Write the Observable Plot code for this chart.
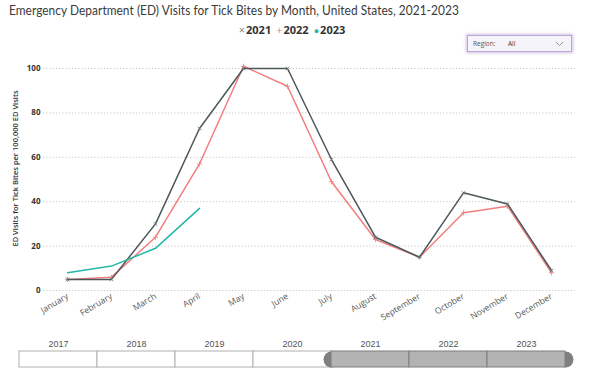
<!DOCTYPE html>
<html>
<head>
<meta charset="utf-8">
<script src="https://cdn.jsdelivr.net/npm/d3@7"></script>
<script src="https://cdn.jsdelivr.net/npm/@observablehq/plot@0.6"></script>
<style>
  body { margin:0; width:598px; height:378px; position:relative; background:#fff; overflow:hidden; font-family:"Open Sans", sans-serif; }
  #title { position:absolute; left:9px; top:2px; font-family:Lato, sans-serif; font-size:11.9px; letter-spacing:0.05px; color:#3a3a3a; white-space:nowrap; transform:scaleY(1.12); transform-origin:left top; }
  #legend { position:absolute; left:0; width:584px; top:22px; text-align:center; font-size:11px; font-weight:bold; color:#333; white-space:nowrap; }
  #legend span.sym { font-weight:normal; margin-right:1px; }
  #legend span.item { margin:0 2.5px; }
  #dropdown { position:absolute; left:467px; top:35px; width:105px; height:17px; box-sizing:border-box; border:1px solid #b9a7d6; background:#f6f4fb; box-shadow:0 0 3px 1px rgba(150,110,190,0.45); font-size:6.5px; color:#555; }
  #dropdown .lab { position:absolute; left:5px; top:3px; }
  #dropdown .val { position:absolute; left:40px; top:3px; color:#333; }
  #dropdown svg { position:absolute; right:7px; top:5px; }
  #chart { position:absolute; left:0; top:58px; }
  #slider { position:absolute; left:0; top:330px; }
</style>
</head>
<body>
<div id="title">Emergency Department (ED) Visits for Tick Bites by Month, United States, 2021-2023</div>
<div id="legend"></div>
<div id="dropdown"><span class="lab">Region:</span><span class="val">All</span>
  <svg width="9" height="6"><path d="M1,1 L4.5,4.5 L8,1" fill="none" stroke="#888" stroke-width="0.9"/></svg></div>
<div id="chart"></div>
<div id="slider"></div>
<script>
const months = ["January","February","March","April","May","June","July","August","September","October","November","December"];
const years = [2021, 2022, 2023];
const v2021 = [5, 5, 30, 73, 100, 100, 59, 24, 15, 44, 39, 9];
const v2022 = [5, 6, 24, 57, 101, 92, 49, 23, 15, 35, 38, 8];
const v2023 = [8, 11, 19, 37];
const colors = ["#4b5758", "#f47e7e", "#22b8a8"];
const legendSymbols = ["×", "+", "●"];
const yTicks = [0, 20, 40, 60, 80, 100];
const yLabel = "ED Visits for Tick Bites per 100,000 ED Visits";
const sliderYears = [2017, 2018, 2019, 2020, 2021, 2022, 2023];
const selectedYears = [2021, 2022, 2023];

const series = [v2021, v2022, v2023];
const rows = [];
series.forEach((vals, i) => vals.forEach((v, j) => rows.push({month: months[j], year: years[i], value: v})));
const byYear = y => rows.filter(d => d.year === y);

// legend
const legend = document.getElementById("legend");
years.forEach((y, i) => {
  const s = document.createElement("span");
  s.className = "item";
  s.innerHTML = `<span class="sym" style="color:${i===0?"#888":colors[i]};font-size:${i===2?9:11}px">${legendSymbols[i]}</span>${y}`;
  legend.appendChild(s);
});

const chart = Plot.plot({
  width: 598,
  height: 272,
  marginTop: 10,
  marginBottom: 40,
  marginLeft: 43,
  marginRight: 23,
  style: {fontFamily: "'Open Sans', sans-serif", background: "transparent"},
  x: {type: "point", domain: months, padding: 0.42, label: null},
  y: {domain: [0, 100], label: null},
  marks: [
    Plot.gridY(yTicks, {stroke: "#c8c8c8", strokeOpacity: 1, strokeDasharray: "1.2,2"}),
    Plot.axisY(yTicks, {tickSize: 0, tickPadding: 3, label: null, fontSize: 8, fontWeight: "bold", fill: "#333"}),
    Plot.axisX({tickSize: 0, tickRotate: -31, tickPadding: 5, label: null, fontSize: 8.6, fill: "#555"}),
    Plot.text([yLabel], {frameAnchor: "left", textAnchor: "middle", rotate: -90, dx: -28, dy: -11, fontSize: 7.5, fontWeight: 600, fill: "#333"}),
    Plot.lineY(byYear(2022), {x: "month", y: "value", stroke: colors[1], strokeWidth: 1.5}),
    Plot.dot(byYear(2022), {x: "month", y: "value", symbol: "plus", r: 1.8, stroke: colors[1], strokeWidth: 0.8}),
    Plot.lineY(byYear(2021), {x: "month", y: "value", stroke: colors[0], strokeWidth: 1.5}),
    Plot.dot(byYear(2021), {x: "month", y: "value", symbol: "times", r: 1.8, stroke: "#6b7475", strokeWidth: 0.8}),
    Plot.lineY(byYear(2023), {x: "month", y: "value", stroke: colors[2], strokeWidth: 1.5})
  ]
});
document.getElementById("chart").appendChild(chart);

const slider = Plot.plot({
  width: 598,
  height: 41,
  marginTop: 21,
  marginBottom: 4,
  marginLeft: 19,
  marginRight: 33,
  style: {fontFamily: "'Liberation Sans', Arial, sans-serif", background: "transparent"},
  x: {domain: [2017, 2024], axis: null},
  y: {domain: [0, 1], axis: null},
  marks: [
    Plot.rect(sliderYears.filter(y => !selectedYears.includes(y)), {x1: d => d, x2: d => d + 1, y1: 0, y2: 1, fill: "#fff", stroke: "#b0b0b0"}),
    Plot.dot([d3.min(selectedYears), d3.max(selectedYears) + 1], {x: d => d, y: 0.5, r: 8, fill: "#7f7f7f"}),
    Plot.rect(selectedYears, {x1: d => d, x2: d => d + 1, y1: 0, y2: 1, fill: "#b3b3b3", stroke: "#7f7f7f"}),
    Plot.text(sliderYears, {x: d => d + 0.5, frameAnchor: "top", dy: -11, text: d => String(d), fontSize: 9, fill: "#555"})
  ]
});
document.getElementById("slider").appendChild(slider);
</script>
</body>
</html>
